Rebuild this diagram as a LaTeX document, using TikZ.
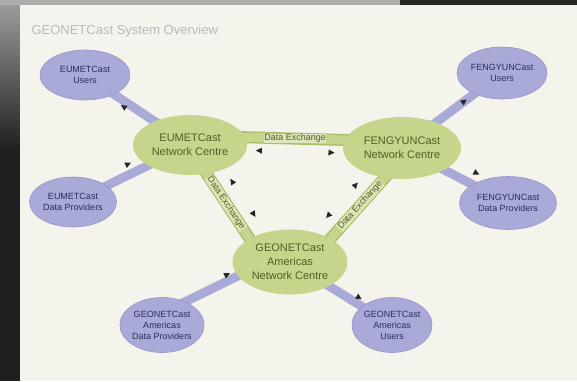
\documentclass[tikz,border=0pt]{standalone}
\usepackage{fontspec}
\setmainfont{Liberation Sans}
\usetikzlibrary{shapes.geometric,decorations.markings,backgrounds}

\definecolor{slidebg}{HTML}{F4F4EC}
\definecolor{netgreen}{HTML}{C5D68C}
\definecolor{bandgreen}{HTML}{A9BE68}
\definecolor{lavfill}{HTML}{A9AAD8}
\definecolor{lavedge}{HTML}{9496C8}
\definecolor{navytext}{HTML}{2B2D5C}
\definecolor{olivetext}{HTML}{525E22}

% small black tips set beside the bands
\newcommand{\tipfwd}[1]{\fill[black!85] (3pt,#1) -- (-3pt,#1+3pt) -- (-3pt,#1-3pt) -- cycle;}
\newcommand{\tipbwd}[1]{\fill[black!85] (-3pt,#1) -- (3pt,#1+3pt) -- (3pt,#1-3pt) -- cycle;}

\tikzset{
	feed/.style 2 args={draw=lavfill, line width=9pt, shorten <=-4pt, shorten >=-4pt,
		postaction={decorate}, decoration={markings, mark=at position #1 with {\tipfwd{#2}}}},
	exch/.style n args={3}{draw=bandgreen, double=netgreen, double distance=9pt, line width=1.5pt,
		shorten <=-6pt, shorten >=-6pt, postaction={decorate},
		decoration={markings, mark=at position #1 with {\tipbwd{#3}}, mark=at position #2 with {\tipfwd{#3}}}},
	exlabel/.style={font=\fontsize{9}{10}\selectfont, text=olivetext, fill=netgreen!60!white, inner sep=0.6pt}
}

\begin{document}
\begin{tikzpicture}[x=1pt, y=-1pt]
	\useasboundingbox (0,0) rectangle (577,381);
	\node[anchor=west, text=gray!55, font=\fontsize{13}{15}\selectfont] (title) at (28,31) {GEONETCast System Overview};
	\begin{scope}[every node/.style={ellipse, fill=netgreen, text=olivetext, align=center, inner sep=0pt, font=\fontsize{11}{14}\selectfont}]
		\node[minimum width=114pt, minimum height=60pt] (NetE) at (190,145) {EUMETCast\\Network Centre};
		\node[minimum width=118pt, minimum height=62pt] (NetF) at (402,148) {FENGYUNCast\\Network Centre};
		\node[minimum width=115pt, minimum height=65pt] (NetA) at (290,262) {GEONETCast\\Americas\\Network Centre};
	\end{scope}
	\begin{scope}[every node/.style={ellipse, fill=lavfill, draw=lavedge, line width=0.6pt, text=navytext, align=center, inner sep=0pt, font=\fontsize{9}{11}\selectfont}]
		\node[minimum width=90pt, minimum height=50pt] (UsrE) at (85,75) {EUMETCast\\Users};
		\node[minimum width=87pt, minimum height=50pt] (ProvE) at (73,202) {EUMETCast\\Data Providers};
		\node[minimum width=90pt, minimum height=52pt] (UsrF) at (502,73) {FENGYUNCast\\Users};
		\node[minimum width=97pt, minimum height=53pt] (ProvF) at (508,203) {FENGYUNCast\\Data Providers};
		\node[minimum width=82pt, minimum height=55pt] (ProvA) at (162,325) {GEONETCast\\Americas\\Data Providers};
		\node[minimum width=80pt, minimum height=55pt] (UsrA) at (392,325) {GEONETCast\\Americas\\Users};
	\end{scope}
	\begin{scope}[on background layer]
		% screen round the slide
		\fill[black!88] (0,0) rectangle (20,381);
		\shade[top color=gray!75, bottom color=black!88] (0,0) rectangle (20,150);
		\fill[gray!65] (0,0) rectangle (400,5);
		\fill[black!85] (400,0) rectangle (577,5);
		\fill[slidebg] (20,5) rectangle (577,381);
		\path (NetE.8) edge[exch={0.14}{0.87}{-13pt}] node[exlabel] {Data Exchange} (NetF.172);
		\path (NetE.-60) edge[exch={0.26}{0.77}{17pt}] node[exlabel, sloped, pos=0.45] {Data Exchange} (NetA.150);
		\path (NetF.-120) edge[exch={0.3}{0.81}{-17pt}] node[exlabel, sloped, pos=0.45] {Data Exchange} (NetA.30);
		\path (NetE) edge[feed={0.7}{5pt}] (UsrE);
		\path (ProvE) edge[feed={0.63}{10pt}] (NetE);
		\path (NetF) edge[feed={0.74}{0pt}] (UsrF);
		\path (NetF) edge[feed={0.95}{12pt}] (ProvF);
		\path (ProvA.45) edge[feed={0.85}{6pt}] (NetA.195);
		\path (NetA) edge[feed={0.82}{6pt}] (UsrA);
	\end{scope}
\end{tikzpicture}
\end{document}
